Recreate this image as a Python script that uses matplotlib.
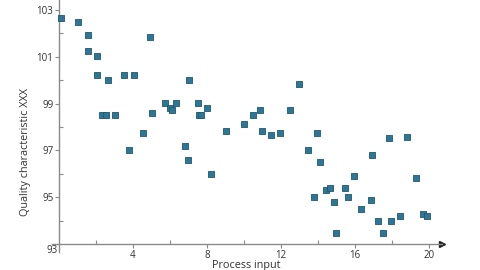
import numpy as np
import matplotlib.pyplot as plt

plt.rcParams['font.family'] = ['Open Sans', 'DejaVu Sans']

# datos
x = [0.1, 1.03, 1.55, 1.55, 2.05, 2.05, 2.67, 3.53, 4.05, 4.94,
     5.03, 2.32, 2.54, 3.05, 4.56, 3.76,
     7.01, 5.73, 6.31, 6.02, 6.13, 7.53, 8.02, 7.55, 7.7,
     12.99, 9.03, 10.0, 10.49, 10.86, 10.99, 11.48, 11.96, 12.49, 13.96,
     6.83, 6.96, 8.22, 13.46, 13.77, 14.12,
     17.82, 18.83, 16.94, 15.95, 19.32, 14.45, 14.66, 15.44, 15.64,
     14.85, 16.85, 16.34, 17.24, 17.93, 18.43, 19.69, 19.91, 14.96, 17.53]
y = [102.66, 102.5, 101.93, 101.23, 101.03, 100.21, 100.02, 100.21, 100.21, 101.83,
     98.6, 98.51, 98.51, 98.51, 97.73, 97.0,
     100.02, 99.01, 99.01, 98.8, 98.71, 99.01, 98.8, 98.51, 98.51,
     99.82, 97.82, 98.12, 98.51, 98.71, 97.82, 97.66, 97.73, 98.71, 97.73,
     97.2, 96.59, 95.98, 97.0, 95.0, 96.49,
     97.52, 97.59, 96.79, 95.89, 95.81, 95.29, 95.39, 95.39, 95.0,
     94.79, 94.89, 94.48, 93.97, 93.97, 94.18, 94.28, 94.18, 93.46, 93.46]

xticks = [4, 8, 12, 16, 20]
yticks = [95, 97, 99, 101, 103]

fig = plt.figure(figsize=(4.8, 2.7), dpi=100)
ax = fig.add_axes([0.1075, 0.066, 0.8133, 0.934])
ax.set_xlim(-0.4, 20.7)
ax.set_ylim(92.65, 103.43)

ax.scatter(x, y, marker='s', s=20, color='#2f7696', edgecolors='#1d5870',
           linewidths=0.6, zorder=3)

for s in ['top', 'right']:
    ax.spines[s].set_visible(False)
ax.spines['left'].set_position(('data', 0))
ax.spines['bottom'].set_position(('data', 93))
for s in ['left', 'bottom']:
    ax.spines[s].set_color('#8a8a8a')
    ax.spines[s].set_linewidth(1)

ax.set_xticks(xticks)
ax.set_xticks([2, 6, 10, 14, 18], minor=True)
ax.set_yticks(yticks)
ax.set_yticks([94, 96, 98, 100, 102], minor=True)
ax.tick_params(which='major', length=3, width=0.8, color='#8a8a8a',
               labelsize=7, labelcolor='#333333', pad=1)
ax.tick_params(which='minor', length=3, width=0.8, color='#8a8a8a', direction='in')

ax.plot(1, 93, '>', color='#222222', markersize=4,
        transform=ax.get_yaxis_transform(), clip_on=False)
ax.annotate('93', xy=(0, 93), xytext=(-1, -1), textcoords='offset points',
            ha='right', va='top', fontsize=7, color='#333333')

fig.text(26 / 480, 1 - 152 / 270, 'Quality characteristic XXX', rotation=90,
         ha='center', va='center', fontsize=7.8, color='#333333')
fig.text(246 / 480, 1 - 260 / 270, 'Process input', ha='center', va='top',
         fontsize=7.8, color='#333333')

plt.savefig('out.png', dpi=100)
